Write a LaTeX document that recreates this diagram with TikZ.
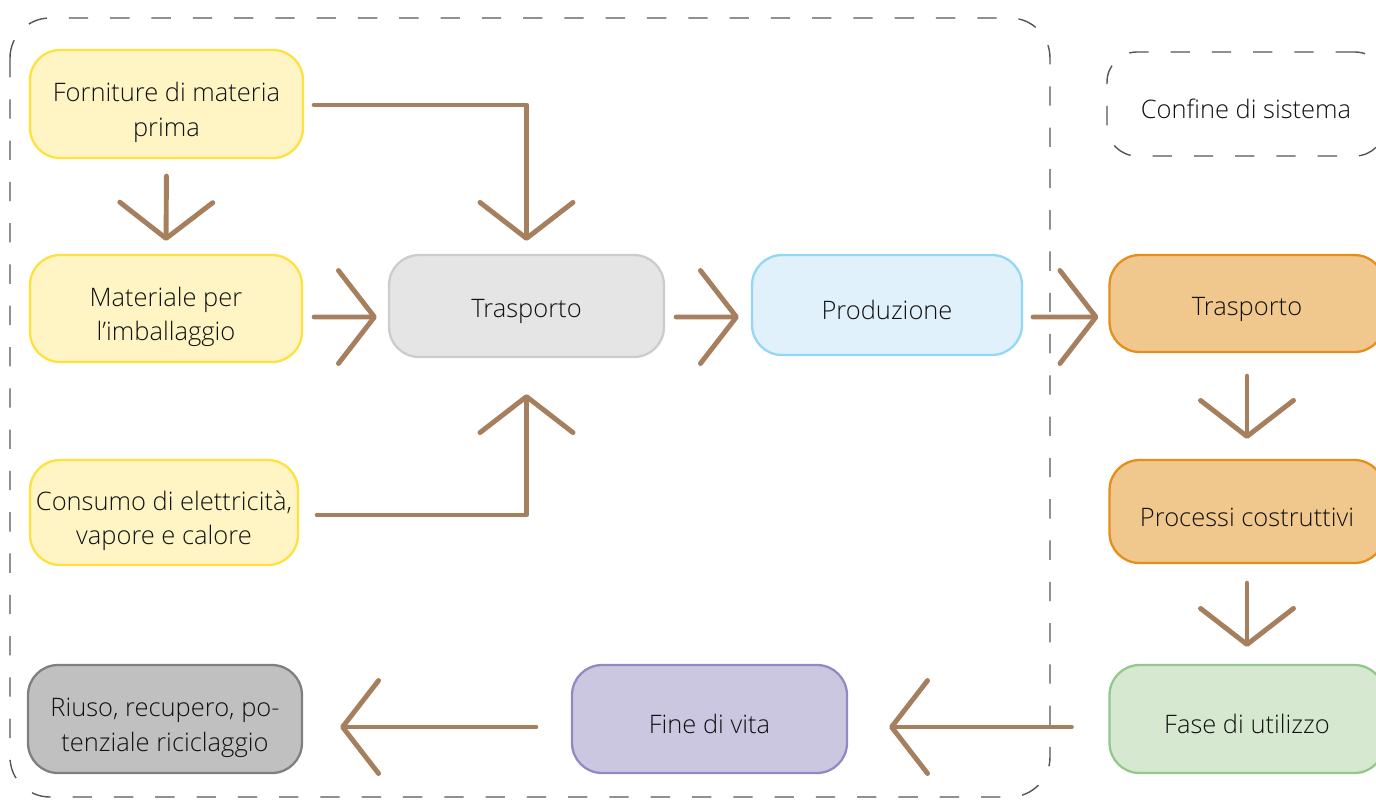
\documentclass[tikz,border=0pt]{standalone}
\usepackage{fontspec}
\setmainfont{Open Sans}[UprightFont={* Light}]
\usepackage{xcolor}
\usepackage{tikz}
\usetikzlibrary{arrows.meta, positioning, calc}

\definecolor{freccia}{HTML}{A67F5E}
\definecolor{gialloF}{HTML}{FFF4C4}
\definecolor{gialloB}{HTML}{FFE13D}
\definecolor{grigioF}{HTML}{E5E5E5}
\definecolor{grigioB}{HTML}{CCCCCC}
\definecolor{bluF}{HTML}{E0F1FB}
\definecolor{bluB}{HTML}{92D7F3}
\definecolor{aranF}{HTML}{F0C88E}
\definecolor{aranB}{HTML}{E58E1A}
\definecolor{verdeF}{HTML}{D7E8D1}
\definecolor{verdeB}{HTML}{93C88A}
\definecolor{violaF}{HTML}{CBC7E0}
\definecolor{violaB}{HTML}{8F8BC2}
\definecolor{scuroF}{HTML}{C0C0C0}
\definecolor{scuroB}{HTML}{7F7F7F}
\definecolor{testo}{HTML}{111111}
\definecolor{confine}{HTML}{555555}

% spinge in basso la prima riga
\newcommand{\primariga}{\rule{0pt}{20.5pt}}

\begin{document}
\begin{tikzpicture}[x=0.02cm, y=-0.02cm,
    fase/.style={rounded corners=0.6cm, line width=1.3pt, align=center,
      text=testo, font=\fontsize{14.5}{19.8}\selectfont,
      execute at begin node={\rule{0pt}{17pt}},
      minimum width=5.5cm, minimum height=2.16cm, inner sep=0pt},
    flusso/.style={draw=freccia, line width=2.8pt, line cap=round, line join=round,
      -{Straight Barb[length=0.72cm, width=1.86cm, line cap=round, line join=round]}},
    limite/.style={draw=confine, line width=0.8pt, dash pattern=on 11pt off 12.5pt}]

    \useasboundingbox (0,0) rectangle (1376,799);

    % confine di sistema
    \draw[limite, rounded corners=0.8cm] (10,18) rectangle (1050,797);
    \node[fase, limite, fill=none, minimum width=5.56cm, minimum height=2.08cm] (legenda) at (1246,104) {Confine di sistema};

    % fasi a monte
    \node[fase, draw=gialloB, fill=gialloF, minimum width=5.46cm] (forn) at (166.5,104) {\primariga Forniture di materia\\prima};
    \node[fase, draw=gialloB, fill=gialloF, minimum width=5.44cm, minimum height=2.14cm] (mat) at (166,308.5) {\primariga Materiale per\\l’imballaggio};
    \node[fase, draw=gialloB, fill=gialloF, minimum width=5.36cm, minimum height=2.1cm] (cons) at (164,512.5) {\primariga Consumo di elettricità,\\vapore e calore};
    \node[fase, draw=grigioB, fill=grigioF, minimum height=2.04cm] (trasA) at (526.5,306) {Trasporto};
    \node[fase, draw=bluB, fill=bluF, minimum width=5.4cm, minimum height=2cm] (prod) at (887,305) {Produzione};

    % fasi a valle
    \node[fase, draw=aranB, fill=aranF, minimum height=1.94cm] (trasB) at (1247,303.5) {Trasporto};
    \node[fase, draw=aranB, fill=aranF, minimum height=2.06cm] (proc) at (1247,511.5) {Processi costruttivi};
    \node[fase, draw=verdeB, fill=verdeF] (uso) at (1247,719) {Fase di utilizzo};
    \node[fase, draw=violaB, fill=violaF] (fine) at (709.5,719) {Fine di vita};
    \node[fase, draw=scuroB, fill=scuroF, minimum width=5.48cm] (riuso) at (165,719) {\primariga Riuso, recupero, po-\\tenziale riciclaggio};

    % frecce
    \draw[flusso, shorten <=0.34cm, shorten >=0.26cm] (forn.south) -- (mat.north);
    \draw[flusso, shorten <=0.2cm, shorten >=0.26cm] ([yshift=-0.02cm]forn.east) -| (trasA.north);
    \draw[flusso, shorten <=0.22cm, shorten >=0.22cm] ([yshift=-0.17cm]mat.east) -- ([yshift=-0.22cm]trasA.west);
    \draw[flusso, shorten <=0.36cm, shorten >=0.72cm] ([yshift=-0.05cm]cons.east) -| (trasA.south);
    \draw[flusso, shorten <=0.22cm, shorten >=0.24cm] ([yshift=-0.22cm]trasA.east) -- ([yshift=-0.24cm]prod.west);
    \draw[flusso, shorten <=0.2cm, shorten >=0.2cm] ([yshift=-0.24cm]prod.east) -- ([yshift=-0.27cm]trasB.west);
    \draw[flusso, shorten <=0.46cm, shorten >=0.4cm] (trasB.south) -- (proc.north);
    \draw[flusso, shorten <=0.38cm, shorten >=0.34cm] (proc.south) -- (uso.north);
    \draw[flusso, shorten <=0.74cm, shorten >=0.82cm] ([yshift=-0.16cm]uso.west) -- ([yshift=-0.16cm]fine.east);
    \draw[flusso, shorten <=0.7cm, shorten >=0.74cm] ([yshift=-0.16cm]fine.west) -- ([yshift=-0.16cm]riuso.east);
\end{tikzpicture}
\end{document}
